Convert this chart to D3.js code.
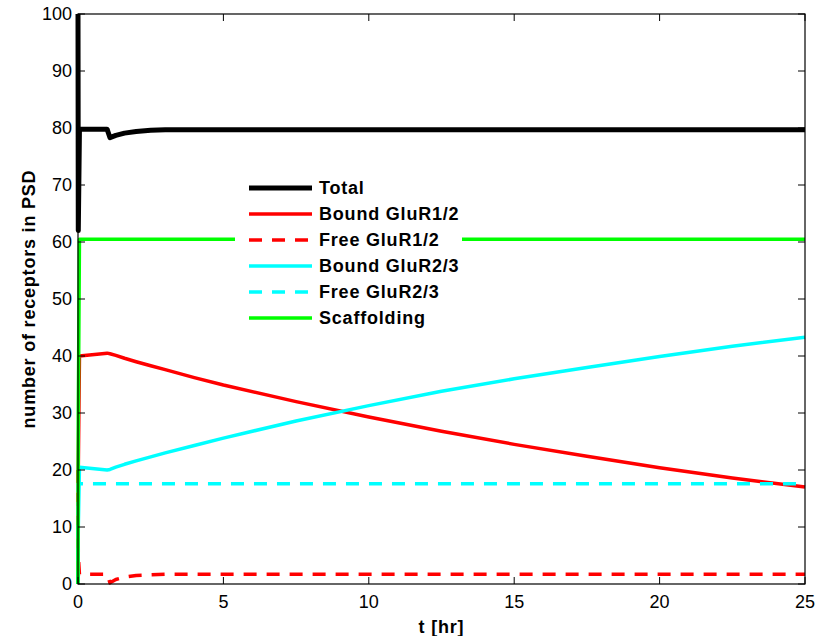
<!DOCTYPE html>
<html>
<head>
<meta charset="utf-8">
<script src="https://cdn.jsdelivr.net/npm/d3@7"></script>
<style>
  body { margin: 0; background: #fff; }
  text { font-family: "Liberation Sans", Arial, Helvetica, sans-serif; }
</style>
</head>
<body>
<div id="chart"></div>
<script>
// sample times (hours)
const timeHr = [0, 0.01, 0.05, 1, 1.1, 1.3, 1.6, 2, 2.5, 3, 4, 5, 7.5, 10, 12.5, 15, 17.5, 20, 22.5, 25];

// series values
const total    = [100, 62, 79.8, 79.8, 78.3, 78.7, 79.1, 79.4, 79.6, 79.7, 79.7, 79.7, 79.7, 79.7, 79.7, 79.7, 79.7, 79.7, 79.7, 79.7];
const boundR12 = [0, 20, 40, 40.5, 40.4, 40.1, 39.6, 39.0, 38.3, 37.6, 36.2, 34.9, 32.0, 29.3, 26.8, 24.5, 22.4, 20.4, 18.6, 17.0];
const freeR12  = [20, 5, 1.7, 1.7, 0.2, 0.8, 1.2, 1.5, 1.6, 1.7, 1.7, 1.7, 1.7, 1.7, 1.7, 1.7, 1.7, 1.7, 1.7, 1.7];
const boundR23 = [0, 10, 20.5, 20.0, 20.1, 20.5, 21.0, 21.6, 22.3, 23.0, 24.3, 25.6, 28.6, 31.3, 33.8, 36.0, 38.0, 39.9, 41.7, 43.3];
const freeR23  = [0, 17.6, 17.6, 17.6, 17.6, 17.6, 17.6, 17.6, 17.6, 17.6, 17.6, 17.6, 17.6, 17.6, 17.6, 17.6, 17.6, 17.6, 17.6, 17.6];
const scaffold = [0, 30, 60.5, 60.5, 60.5, 60.5, 60.5, 60.5, 60.5, 60.5, 60.5, 60.5, 60.5, 60.5, 60.5, 60.5, 60.5, 60.5, 60.5, 60.5];

const seriesNames = ["Total", "Bound GluR1/2", "Free GluR1/2", "Bound GluR2/3", "Free GluR2/3", "Scaffolding"];
const xTicks = [0, 5, 10, 15, 20, 25];
const yTicks = [0, 10, 20, 30, 40, 50, 60, 70, 80, 90, 100];

const width = 816, height = 636;
const margin = { left: 78, right: 11, top: 14, bottom: 52 };

const svg = d3.select("#chart").append("svg")
  .attr("width", width)
  .attr("height", height);

const x = d3.scaleLinear().domain([0, 25]).range([margin.left, width - margin.right]);
const y = d3.scaleLinear().domain([0, 100]).range([height - margin.bottom, margin.top]);

const styles = [
  { color: "#000000", w: 5,   dash: null },
  { color: "#ff0000", w: 3.5, dash: null },
  { color: "#ff0000", w: 3.5, dash: "13,10" },
  { color: "#00ffff", w: 3.5, dash: null },
  { color: "#00ffff", w: 3.5, dash: "13,10" },
  { color: "#00ff00", w: 3.5, dash: null }
];
const allSeries = [total, boundR12, freeR12, boundR23, freeR23, scaffold];

svg.append("clipPath").attr("id", "clip")
  .append("rect")
  .attr("x", margin.left - 3).attr("y", margin.top - 3)
  .attr("width", x(25) - x(0) + 6).attr("height", y(0) - y(100) + 6);

const line = d3.line()
  .x((d, i) => x(timeHr[i]))
  .y(d => y(d));

const plot = svg.append("g").attr("clip-path", "url(#clip)");
allSeries.forEach((vals, k) => {
  plot.append("path")
    .attr("d", line(vals))
    .attr("fill", "none")
    .attr("stroke", styles[k].color)
    .attr("stroke-width", styles[k].w)
    .attr("stroke-dasharray", styles[k].dash)
    .attr("stroke-linejoin", "round");
});

// legend (white box, no border)
const lg = svg.append("g");
lg.append("rect")
  .attr("x", 235).attr("y", 173)
  .attr("width", 227).attr("height", 158)
  .attr("fill", "#fff");
seriesNames.forEach((name, k) => {
  const ly = 188 + k * 26;
  lg.append("line")
    .attr("x1", 249).attr("x2", 312)
    .attr("y1", ly).attr("y2", ly)
    .attr("stroke", styles[k].color)
    .attr("stroke-width", styles[k].w)
    .attr("stroke-dasharray", styles[k].dash);
  lg.append("text")
    .attr("x", 319).attr("y", ly)
    .attr("dy", "0.36em")
    .attr("font-size", 18)
    .attr("letter-spacing", 0.8)
    .attr("font-weight", "bold")
    .text(name);
});

// axes box with inward ticks
const tickLen = 7;
const axisG = svg.append("g");
axisG.append("rect")
  .attr("x", x(0)).attr("y", y(100))
  .attr("width", x(25) - x(0)).attr("height", y(0) - y(100))
  .attr("fill", "none").attr("stroke", "#000").attr("stroke-width", 1.2);

xTicks.forEach(t => {
  axisG.append("line").attr("x1", x(t)).attr("x2", x(t))
    .attr("y1", y(0)).attr("y2", y(0) - tickLen).attr("stroke", "#000");
  axisG.append("line").attr("x1", x(t)).attr("x2", x(t))
    .attr("y1", y(100)).attr("y2", y(100) + tickLen).attr("stroke", "#000");
  axisG.append("text")
    .attr("x", x(t)).attr("y", 608)
    .attr("text-anchor", "middle")
    .attr("font-size", 18)
    .text(t);
});

yTicks.forEach(v => {
  axisG.append("line").attr("x1", x(0)).attr("x2", x(0) + tickLen)
    .attr("y1", y(v)).attr("y2", y(v)).attr("stroke", "#000");
  axisG.append("line").attr("x1", x(25)).attr("x2", x(25) - tickLen)
    .attr("y1", y(v)).attr("y2", y(v)).attr("stroke", "#000");
  axisG.append("text")
    .attr("x", 72).attr("y", y(v))
    .attr("dy", "0.36em")
    .attr("text-anchor", "end")
    .attr("font-size", 18)
    .text(v);
});

svg.append("text")
  .attr("x", x(12.5)).attr("y", 633)
  .attr("text-anchor", "middle")
  .attr("font-size", 18)
  .attr("letter-spacing", 0.8)
  .attr("font-weight", "bold")
  .text("t [hr]");

svg.append("text")
  .attr("transform", `translate(35,${(y(0) + y(100)) / 2}) rotate(-90)`)
  .attr("text-anchor", "middle")
  .attr("font-size", 18)
  .attr("letter-spacing", 0.8)
  .attr("font-weight", "bold")
  .text("number of receptors in PSD");
</script>
</body>
</html>
